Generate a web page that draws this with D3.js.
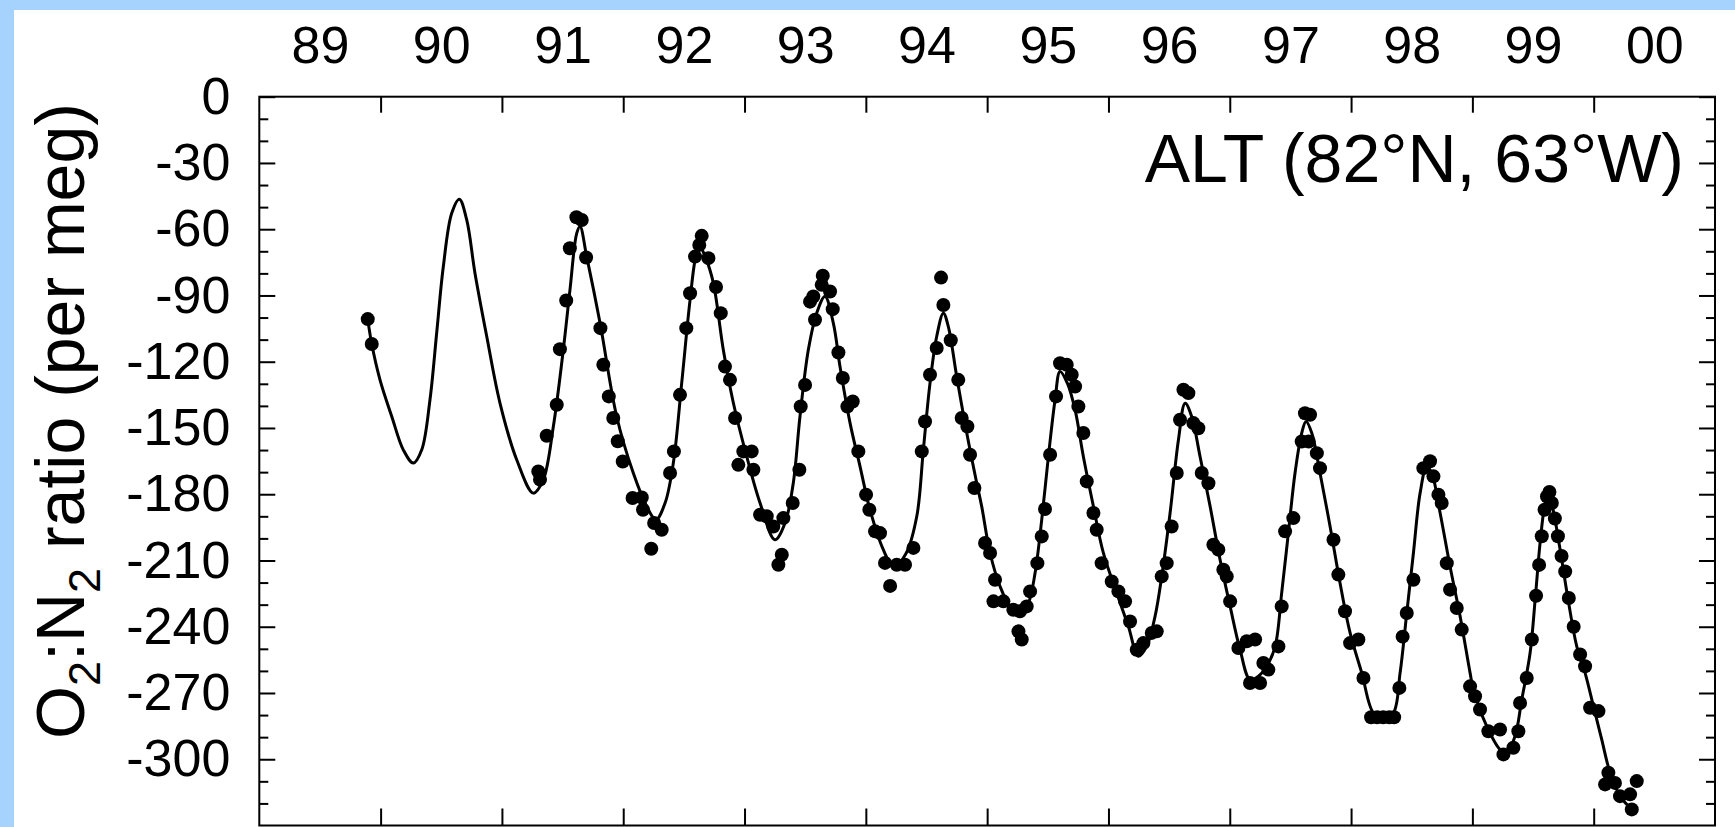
<!DOCTYPE html>
<html>
<head>
<meta charset="utf-8">
<script src="https://cdn.jsdelivr.net/npm/d3@7"></script>
<style>
html,body{margin:0;padding:0;background:#a6d3fd;}
svg{display:block;}
</style>
</head>
<body>
<svg id="chart" width="1735" height="827"></svg>
<script>
// ---- Data ----
const yearTicks = [1990,1991,1992,1993,1994,1995,1996,1997,1998,1999,2000];
const yearLabelPos = [1989.5,1990.5,1991.5,1992.5,1993.5,1994.5,1995.5,1996.5,1997.5,1998.5,1999.5,2000.5];
const yearLabels = ["89","90","91","92","93","94","95","96","97","98","99","00"];
const yMajor = [0,-30,-60,-90,-120,-150,-180,-210,-240,-270,-300];
const yLabels = ["0","-30","-60","-90","-120","-150","-180","-210","-240","-270","-300"];
const yMinor = [-10,-20,-40,-50,-70,-80,-100,-110,-130,-140,-160,-170,-190,-200,-220,-230,-250,-260,-280,-290,-310,-320];
const stationTitle = "ALT (82°N, 63°W)";

// fitted curve (time in decimal years, O2:N2 in per meg)
const fitTime = [1989.894,1989.927,1989.995,1990.092,1990.187,1990.270,1990.339,1990.407,1990.462,1990.517,1990.586,1990.649,1990.710,1990.778,1990.875,1990.984,1991.122,1991.259,1991.341,1991.424,1991.506,1991.561,1991.617,1991.644,1991.699,1991.809,1991.946,1992.083,1992.194,1992.270,1992.345,1992.413,1992.482,1992.551,1992.600,1992.633,1992.680,1992.743,1992.825,1992.908,1993.018,1993.128,1993.251,1993.334,1993.402,1993.457,1993.526,1993.595,1993.663,1993.732,1993.787,1993.870,1993.952,1994.034,1994.144,1994.230,1994.330,1994.420,1994.474,1994.529,1994.584,1994.639,1994.680,1994.749,1994.832,1994.914,1994.955,1995.024,1995.106,1995.203,1995.271,1995.340,1995.395,1995.450,1995.505,1995.560,1995.601,1995.661,1995.725,1995.793,1995.876,1995.958,1996.068,1996.164,1996.247,1996.315,1996.384,1996.439,1996.508,1996.577,1996.632,1996.686,1996.755,1996.838,1996.920,1997.003,1997.085,1997.167,1997.236,1997.305,1997.374,1997.428,1997.483,1997.538,1997.593,1997.629,1997.676,1997.744,1997.827,1997.909,1997.992,1998.088,1998.184,1998.267,1998.349,1998.404,1998.459,1998.514,1998.569,1998.624,1998.665,1998.734,1998.816,1998.899,1998.981,1999.008,1999.118,1999.228,1999.283,1999.352,1999.407,1999.476,1999.520,1999.560,1999.600,1999.628,1999.665,1999.720,1999.790,1999.860,1999.929,1999.998,2000.066,2000.135,2000.218,2000.286];
const fitValue = [-100.7,-112.0,-128.2,-144.8,-159.9,-165.9,-159.9,-137.2,-107.1,-76.9,-52.8,-46.4,-55.8,-79.9,-108.6,-138.7,-164.4,-179.5,-173.4,-149.3,-114.6,-87.5,-61.8,-58.8,-72.4,-102.5,-144.8,-170.4,-185.5,-191.5,-184.0,-165.9,-129.7,-92.0,-72.0,-68.0,-73.0,-84.4,-114.6,-138.7,-162.9,-184.0,-200.6,-193.0,-174.9,-144.8,-114.6,-98.0,-90.5,-102.5,-122.2,-147.8,-167.4,-187.0,-205.1,-213.0,-207.0,-190.0,-159.9,-129.7,-108.6,-98.0,-104.1,-126.7,-152.3,-174.9,-185.5,-206.6,-221.7,-232.3,-234.5,-229.3,-215.7,-191.5,-162.9,-137.2,-124.4,-129.7,-141.8,-162.9,-185.5,-206.6,-224.7,-239.8,-253.4,-248.9,-235.3,-217.2,-188.5,-155.3,-138.8,-144.8,-162.9,-185.5,-209.6,-230.8,-250.4,-264.0,-262.4,-257.9,-248.9,-224.7,-197.6,-170.4,-152.3,-147.1,-152.3,-170.4,-194.6,-220.2,-242.8,-260.9,-279.0,-281.3,-279.0,-260.9,-233.8,-206.6,-179.5,-167.4,-170.4,-188.5,-212.7,-235.3,-260.9,-268.4,-285.0,-295.6,-297.1,-289.5,-273.0,-251.8,-226.0,-201.0,-184.0,-180.0,-187.0,-204.0,-228.0,-248.8,-260.9,-276.0,-291.0,-306.1,-316.7,-321.2];

// flask observations
const obsTime = [1989.894,1989.927,1991.300,1991.314,1991.369,1991.452,1991.478,1991.530,1991.560,1991.614,1991.658,1991.694,1991.812,1991.836,1991.881,1991.918,1991.955,1991.996,1992.077,1992.153,1992.163,1992.231,1992.255,1992.317,1992.386,1992.418,1992.468,1992.520,1992.551,1992.592,1992.627,1992.647,1992.702,1992.765,1992.804,1992.839,1992.880,1992.922,1992.949,1992.990,1993.059,1993.073,1993.128,1993.183,1993.237,1993.279,1993.307,1993.320,1993.397,1993.452,1993.463,1993.499,1993.540,1993.567,1993.581,1993.636,1993.645,1993.705,1993.727,1993.774,1993.810,1993.848,1993.892,1993.938,1994.002,1994.029,1994.076,1994.117,1994.158,1994.200,1994.255,1994.323,1994.392,1994.461,1994.488,1994.529,1994.584,1994.620,1994.639,1994.700,1994.762,1994.790,1994.837,1994.859,1994.895,1994.983,1995.024,1995.052,1995.065,1995.134,1995.216,1995.258,1995.271,1995.285,1995.326,1995.354,1995.414,1995.450,1995.477,1995.519,1995.568,1995.601,1995.656,1995.697,1995.725,1995.752,1995.793,1995.821,1995.876,1995.903,1995.944,1996.027,1996.082,1996.137,1996.178,1996.233,1996.288,1996.357,1996.398,1996.439,1996.480,1996.521,1996.563,1996.590,1996.618,1996.659,1996.700,1996.741,1996.769,1996.824,1996.865,1996.906,1996.947,1996.975,1997.003,1997.071,1997.140,1997.167,1997.209,1997.250,1997.277,1997.318,1997.401,1997.428,1997.456,1997.524,1997.593,1997.620,1997.650,1997.662,1997.718,1997.744,1997.855,1997.895,1997.950,1997.992,1998.060,1998.102,1998.165,1998.215,1998.265,1998.315,1998.355,1998.398,1998.425,1998.459,1998.514,1998.596,1998.651,1998.679,1998.720,1998.747,1998.789,1998.816,1998.871,1998.912,1998.981,1999.022,1999.063,1999.132,1999.228,1999.256,1999.338,1999.379,1999.393,1999.448,1999.490,1999.525,1999.550,1999.572,1999.595,1999.615,1999.635,1999.655,1999.680,1999.705,1999.735,1999.765,1999.795,1999.835,1999.888,1999.929,1999.970,2000.039,2000.094,2000.121,2000.175,2000.217,2000.300,2000.314,2000.355];
const obsValue = [-100.7,-112.0,-169.7,-173.4,-153.5,-139.5,-114.3,-92.3,-68.6,-54.6,-55.8,-72.8,-104.8,-121.4,-135.7,-145.5,-156.0,-165.2,-181.7,-181.5,-187.0,-204.7,-193.0,-196.1,-170.4,-160.6,-135.0,-104.8,-89.0,-72.4,-67.1,-63.0,-73.1,-86.2,-98.0,-122.2,-128.2,-145.5,-166.7,-160.6,-160.6,-168.9,-189.3,-190.0,-194.6,-211.9,-207.4,-190.8,-184.0,-168.9,-140.3,-130.5,-92.8,-90.5,-101.0,-85.2,-81.1,-88.2,-96.2,-115.8,-127.4,-140.3,-138.0,-160.6,-180.2,-187.0,-196.8,-197.6,-211.1,-221.5,-211.9,-211.9,-204.3,-160.6,-147.1,-125.9,-113.8,-81.9,-94.3,-110.3,-128.2,-145.5,-149.3,-162.1,-177.2,-202.1,-206.6,-228.5,-218.7,-228.5,-232.3,-242.1,-233.0,-245.8,-230.8,-224.0,-211.2,-199.1,-186.7,-162.1,-135.7,-120.7,-121.4,-125.9,-131.2,-140.3,-152.3,-174.2,-188.5,-196.1,-211.2,-219.5,-224.0,-228.5,-237.6,-250.4,-247.4,-242.8,-242.1,-217.2,-211.2,-194.6,-170.4,-146.3,-132.7,-134.2,-147.8,-150.1,-170.4,-175.0,-202.9,-205.1,-214.2,-217.2,-228.5,-249.6,-246.6,-265.5,-245.8,-265.5,-256.4,-259.4,-248.9,-230.8,-196.8,-190.8,-156.1,-143.3,-156.1,-144.0,-161.4,-168.2,-200.6,-216.4,-233.0,-247.4,-245.8,-263.2,-281.0,-281.0,-281.0,-281.0,-281.0,-267.7,-244.5,-233.8,-218.7,-168.2,-165.1,-171.9,-180.2,-184.0,-211.2,-223.2,-231.5,-241.3,-267.0,-271.5,-277.5,-287.3,-286.5,-297.8,-294.8,-287.3,-274.5,-263.2,-245.8,-226.0,-212.0,-199.0,-187.0,-181.0,-179.0,-184.0,-191.0,-199.0,-208.0,-215.0,-227.0,-240.0,-252.6,-257.9,-276.7,-278.2,-311.4,-306.1,-310.7,-316.7,-315.9,-322.7,-309.9];

// ---- Drawing ----
const W = 1735, H = 827;
const FONT = '"Liberation Sans", Arial, Helvetica, sans-serif';
const svg = d3.select("#chart");
svg.append("rect").attr("width", W).attr("height", H).attr("fill", "#a6d3fd");
svg.append("rect").attr("x", 14).attr("y", 10).attr("width", W - 14).attr("height", H - 10).attr("fill", "#ffffff");

const L = 259.3, R = 1715, T = 96.7, B = 825.5;
const x = d3.scaleLinear().domain([1989, 2001]).range([L, R]);
const y = d3.scaleLinear().domain([-330, 0]).range([B, T]);

function styleAxis(g, fs) {
  g.attr("font-family", FONT).attr("font-size", fs);
  g.select(".domain").remove();
  g.selectAll(".tick line").attr("stroke", "#000").attr("stroke-width", 2);
  g.selectAll(".tick text").attr("fill", "#000");
}

// left axis: majors with labels, minors
styleAxis(svg.append("g").attr("transform", `translate(${L},0)`)
  .call(d3.axisLeft(y).tickValues(yMajor).tickSizeInner(-16).tickSizeOuter(0).tickPadding(29)
    .tickFormat((d, i) => yLabels[i])), 52);
styleAxis(svg.append("g").attr("transform", `translate(${L},0)`)
  .call(d3.axisLeft(y).tickValues(yMinor).tickSizeInner(-9).tickSizeOuter(0).tickFormat("")), 10);
// right axis
styleAxis(svg.append("g").attr("transform", `translate(${R},0)`)
  .call(d3.axisRight(y).tickValues(yMajor).tickSizeInner(-16).tickSizeOuter(0).tickFormat("")), 10);
styleAxis(svg.append("g").attr("transform", `translate(${R},0)`)
  .call(d3.axisRight(y).tickValues(yMinor).tickSizeInner(-9).tickSizeOuter(0).tickFormat("")), 10);
// top ticks and labels
styleAxis(svg.append("g").attr("transform", `translate(0,${T})`)
  .call(d3.axisTop(x).tickValues(yearTicks).tickSizeInner(-16).tickSizeOuter(0).tickFormat("")), 10);
styleAxis(svg.append("g").attr("transform", `translate(0,${T})`)
  .call(d3.axisTop(x).tickValues(yearLabelPos).tickSize(0).tickPadding(33.4)
    .tickFormat((d, i) => yearLabels[i])), 52);
// bottom ticks
styleAxis(svg.append("g").attr("transform", `translate(0,${B})`)
  .call(d3.axisBottom(x).tickValues(yearTicks).tickSizeInner(-17).tickSizeOuter(0).tickFormat("")), 10);

// frame
svg.append("rect").attr("x", L).attr("y", T).attr("width", R - L).attr("height", B - T)
  .attr("fill", "none").attr("stroke", "#000").attr("stroke-width", 2);

// fitted curve
const fit = fitTime.map((t, i) => [t, fitValue[i]]);
svg.append("path").datum(fit)
  .attr("fill", "none").attr("stroke", "#000").attr("stroke-width", 3)
  .attr("d", d3.line().x(d => x(d[0])).y(d => y(d[1])).curve(d3.curveCatmullRom.alpha(0.5)));

// observations
const obs = obsTime.map((t, i) => [t, obsValue[i]]);
svg.append("g").selectAll("circle").data(obs).join("circle")
  .attr("cx", d => x(d[0])).attr("cy", d => y(d[1])).attr("r", 7).attr("fill", "#000");

// station title
svg.append("text").attr("x", 1684).attr("y", 182).attr("text-anchor", "end")
  .attr("font-family", FONT).attr("font-size", 68).attr("fill", "#000").text(stationTitle);

// y-axis title with subscripts
const yt = svg.append("text").attr("transform", "translate(84,421) rotate(-90)")
  .attr("text-anchor", "middle").attr("font-family", FONT).attr("font-size", 68).attr("fill", "#000");
yt.append("tspan").text("O");
yt.append("tspan").attr("font-size", 45).attr("dy", 16).text("2");
yt.append("tspan").attr("dy", -16).text(":N");
yt.append("tspan").attr("font-size", 45).attr("dy", 16).text("2");
yt.append("tspan").attr("dy", -16).text(" ratio (per meg)");
</script>
</body>
</html>
